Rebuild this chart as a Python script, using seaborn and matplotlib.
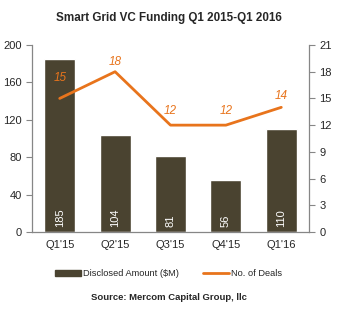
import matplotlib
matplotlib.use("Agg")
import matplotlib.pyplot as plt
import seaborn as sns
import pandas as pd
from matplotlib.lines import Line2D
from matplotlib.patches import Patch

# data
quarters = ["Q1'15", "Q2'15", "Q3'15", "Q4'15", "Q1'16"]
amount = [185, 104, 81, 56, 110]
deals = [15, 18, 12, 12, 14]

bar_color = "#4a4330"
line_color = "#e8741c"
axis_color = "#868686"

sns.set_style("white")
plt.rcParams["font.family"] = ["Liberation Sans", "DejaVu Sans"]

df = pd.DataFrame({"quarter": quarters, "amount": amount, "deals": deals})

fig = plt.figure(figsize=(3.37, 3.15), dpi=100)
ax = fig.add_axes([32 / 337, 1 - 232 / 315, 277 / 337, 187 / 315])

sns.barplot(data=df, x="quarter", y="amount", color=bar_color, width=0.56,
            saturation=1, ax=ax)
ax.set_ylim(0, 200)
ax.set_yticks(range(0, 201, 40))
ax.set_xlim(-0.5, 4.5)
ax.set_xlabel("")
ax.set_ylabel("")

for i, v in enumerate(amount):
    ax.text(i, 5, str(v), rotation=90, ha="center", va="bottom",
            color="white", fontsize=8)

ax2 = ax.twinx()
sns.pointplot(data=df, x="quarter", y="deals", color=line_color, markers="",
              linestyles="-", ax=ax2)
for ln in ax2.lines:
    ln.set_linewidth(2)
ax2.set_ylim(0, 21)
ax2.set_yticks(range(0, 22, 3))
ax2.set_xlim(-0.5, 4.5)
ax2.set_ylabel("")
ax2.set_xlabel("")

label_offsets = [15, 7, 10, 10, 8]
for i, v in enumerate(deals):
    ax2.annotate(str(v), (i, v), xytext=(0, label_offsets[i]),
                 textcoords="offset points", ha="center", va="center",
                 color=line_color, fontsize=8.5, style="italic")

# spines and ticks
for a in (ax, ax2):
    for s in a.spines.values():
        s.set_visible(False)
ax.spines["left"].set_visible(True)
ax.spines["bottom"].set_visible(True)
ax2.spines["right"].set_visible(True)
for s in (ax.spines["left"], ax.spines["bottom"], ax2.spines["right"]):
    s.set_color(axis_color)
    s.set_linewidth(0.9)

ax.set_xticks([x + 0.5 for x in range(-1, 5)], minor=True)
ax.tick_params(axis="x", which="major", length=0, labelsize=8, pad=6)
ax.tick_params(axis="x", which="minor", length=4, color=axis_color,
               direction="out")
ax.tick_params(axis="y", length=4, color=axis_color, direction="out",
               labelsize=8, left=True)
ax2.tick_params(axis="y", length=4, color=axis_color, direction="out",
                labelsize=8, right=True)

fig.text(0.5, 1 - 18 / 315, "Smart Grid VC Funding Q1 2015-Q1 2016",
         ha="center", va="center", fontsize=8.4, fontweight="bold")

handles = [Patch(color=bar_color, label="Disclosed Amount ($M)"),
           Line2D([0], [0], color=line_color, lw=2, label="No. of Deals")]
fig.legend(handles=handles, loc="center", bbox_to_anchor=(0.5, 1 - 274 / 315),
           ncol=2, frameon=False, fontsize=6.7, handlelength=2.8,
           handleheight=0.6, columnspacing=2.5, handletextpad=0.3)

fig.text(0.5, 1 - 298 / 315, "Source: Mercom Capital Group, llc",
         ha="center", va="center", fontsize=6.8, fontweight="bold")

fig.savefig("out.png", dpi=100)
